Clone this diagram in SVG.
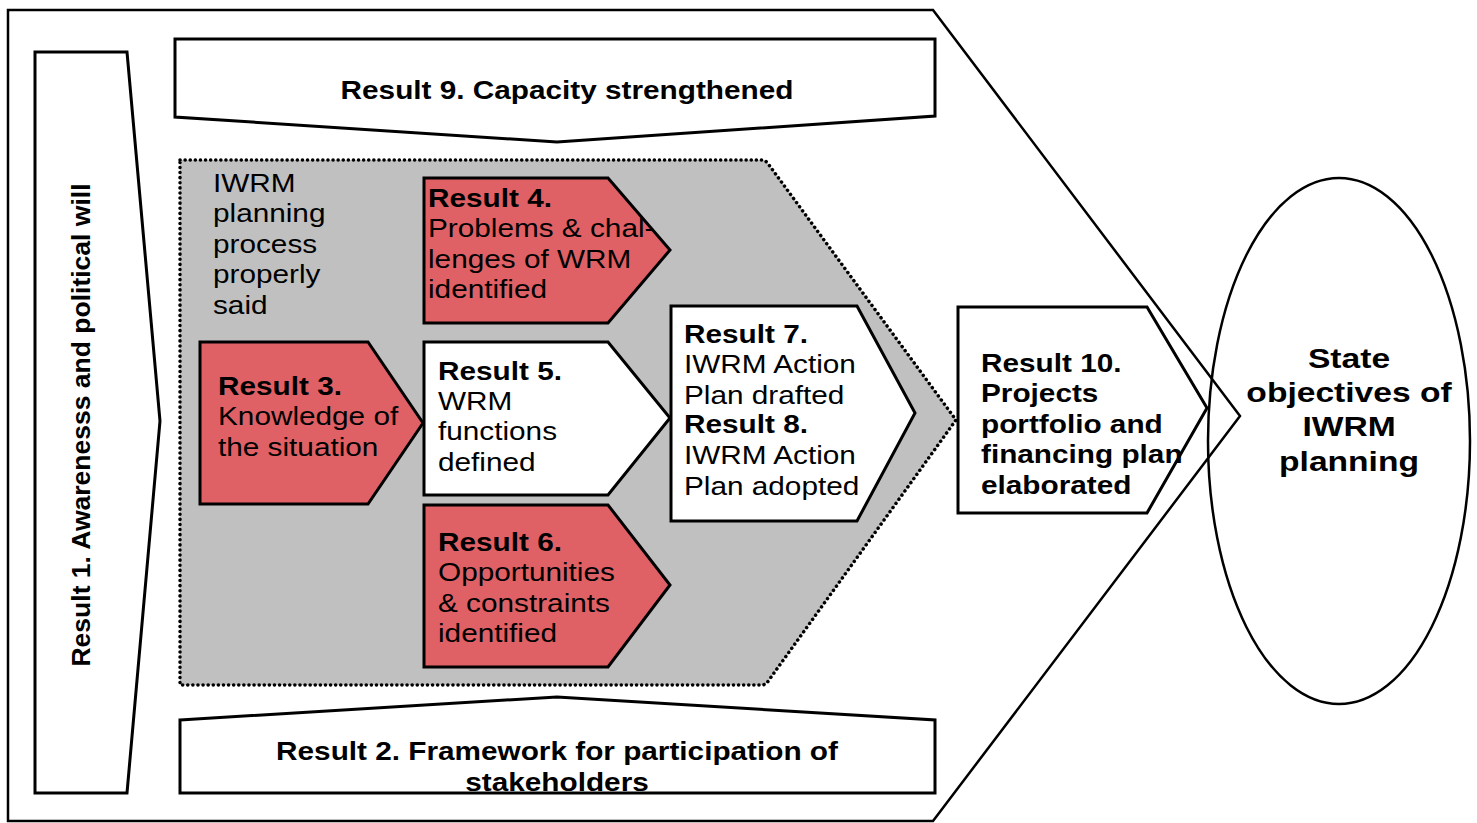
<svg xmlns="http://www.w3.org/2000/svg" width="1477" height="823" viewBox="0 0 1477 823">
<style>
.s{stroke:#000;stroke-width:3;stroke-linejoin:miter;fill:#fff}
.r{fill:#e06165}
.w{fill:#fff}
text{font-family:"Liberation Sans",Arial,sans-serif;font-size:25px;fill:#000}
.b{font-weight:bold}
.big{font-size:28px;font-weight:bold}
.v{font-size:26.5px;font-weight:bold}
</style>
<rect width="1477" height="823" fill="#fff"/>
<g id="frame">
<path d="M8,10 L933,10 L1240,416 L933,821 L8,821 Z" fill="#fff" stroke="#000" stroke-width="2.5"/>
</g>
<g id="result1">
<path class="s" d="M35,52 L127,52 L160,421 L127,793 L35,793 Z"/>
<text class="v" transform="translate(90,425) rotate(-90)" text-anchor="middle">Result 1. Awarenesss and political will</text>
</g>
<g id="result9">
<path class="s" d="M175,39 L935,39 L935,116 L557,142 L175,117 Z"/>
<text class="b" transform="translate(567,99) scale(1.19,1)" text-anchor="middle">Result 9. Capacity strengthened</text>
</g>
<g id="result2">
<path class="s" d="M180,720 L557,697 L935,720 L935,793 L180,793 Z"/>
<text class="b" transform="translate(557,760) scale(1.19,1)" text-anchor="middle">Result 2. Framework for participation of</text>
<text class="b" transform="translate(557,791) scale(1.19,1)" text-anchor="middle">stakeholders</text>
</g>
<g id="process">
<path d="M180,160 L762,160 Q766,160 769,165 L956,420 L769,680 Q766,685 762,685 L180,685 Z" fill="#c0c0c0" stroke="#000" stroke-width="3.5" stroke-dasharray="0.1 5" stroke-linecap="round"/>
<text transform="translate(213,192) scale(1.19,1)">IWRM</text>
<text transform="translate(213,222) scale(1.19,1)">planning</text>
<text transform="translate(213,253) scale(1.19,1)">process</text>
<text transform="translate(213,283) scale(1.19,1)">properly</text>
<text transform="translate(213,314) scale(1.19,1)">said</text>
</g>
<g id="result4">
<path class="s r" d="M424,178 L608,178 L670,250 L608,323 L424,323 Z"/>
<text class="b" transform="translate(428,207) scale(1.19,1)">Result 4.</text>
<text transform="translate(428,237) scale(1.19,1)">Problems &amp; chal-</text>
<text transform="translate(428,268) scale(1.19,1)">lenges of WRM</text>
<text transform="translate(428,298) scale(1.19,1)">identified</text>
</g>
<g id="result3">
<path class="s r" d="M200,342 L368,342 L423,423 L368,504 L200,504 Z"/>
<text class="b" transform="translate(218,395) scale(1.19,1)">Result 3.</text>
<text transform="translate(218,425) scale(1.19,1)">Knowledge of</text>
<text transform="translate(218,456) scale(1.19,1)">the situation</text>
</g>
<g id="result5">
<path class="s w" d="M424,342 L608,342 L670,418 L608,495 L424,495 Z"/>
<text class="b" transform="translate(438,380) scale(1.19,1)">Result 5.</text>
<text transform="translate(438,410) scale(1.19,1)">WRM</text>
<text transform="translate(438,440) scale(1.19,1)">functions</text>
<text transform="translate(438,471) scale(1.19,1)">defined</text>
</g>
<g id="result6">
<path class="s r" d="M424,505 L608,505 L670,585 L608,667 L424,667 Z"/>
<text class="b" transform="translate(438,551) scale(1.19,1)">Result 6.</text>
<text transform="translate(438,581) scale(1.19,1)">Opportunities</text>
<text transform="translate(438,612) scale(1.19,1)">&amp; constraints</text>
<text transform="translate(438,642) scale(1.19,1)">identified</text>
</g>
<g id="result78">
<path class="s w" d="M671,306 L857,306 L915,413 L857,521 L671,521 Z"/>
<text class="b" transform="translate(684,343) scale(1.19,1)">Result 7.</text>
<text transform="translate(684,373) scale(1.19,1)">IWRM Action</text>
<text transform="translate(684,404) scale(1.19,1)">Plan drafted</text>
<text class="b" transform="translate(684,433) scale(1.19,1)">Result 8.</text>
<text transform="translate(684,464) scale(1.19,1)">IWRM Action</text>
<text transform="translate(684,495) scale(1.19,1)">Plan adopted</text>
</g>
<g id="result10">
<path class="s w" d="M958,307 L1147,307 L1207,408 L1147,513 L958,513 Z"/>
<text class="b" transform="translate(981,372) scale(1.19,1)">Result 10.</text>
<text class="b" transform="translate(981,402) scale(1.19,1)">Projects</text>
<text class="b" transform="translate(981,433) scale(1.19,1)">portfolio and</text>
<text class="b" transform="translate(981,463) scale(1.19,1)">financing plan</text>
<text class="b" transform="translate(981,494) scale(1.19,1)">elaborated</text>
</g>
<g id="objectives">
<ellipse cx="1339" cy="441" rx="131" ry="263" fill="none" stroke="#000" stroke-width="2.5"/>
<text class="big" transform="translate(1349,368) scale(1.2,1)" text-anchor="middle">State</text>
<text class="big" transform="translate(1349,402) scale(1.2,1)" text-anchor="middle">objectives of</text>
<text class="big" transform="translate(1349,436) scale(1.2,1)" text-anchor="middle">IWRM</text>
<text class="big" transform="translate(1349,471) scale(1.2,1)" text-anchor="middle">planning</text>
</g>
<g id="connectors"></g>
</svg>
